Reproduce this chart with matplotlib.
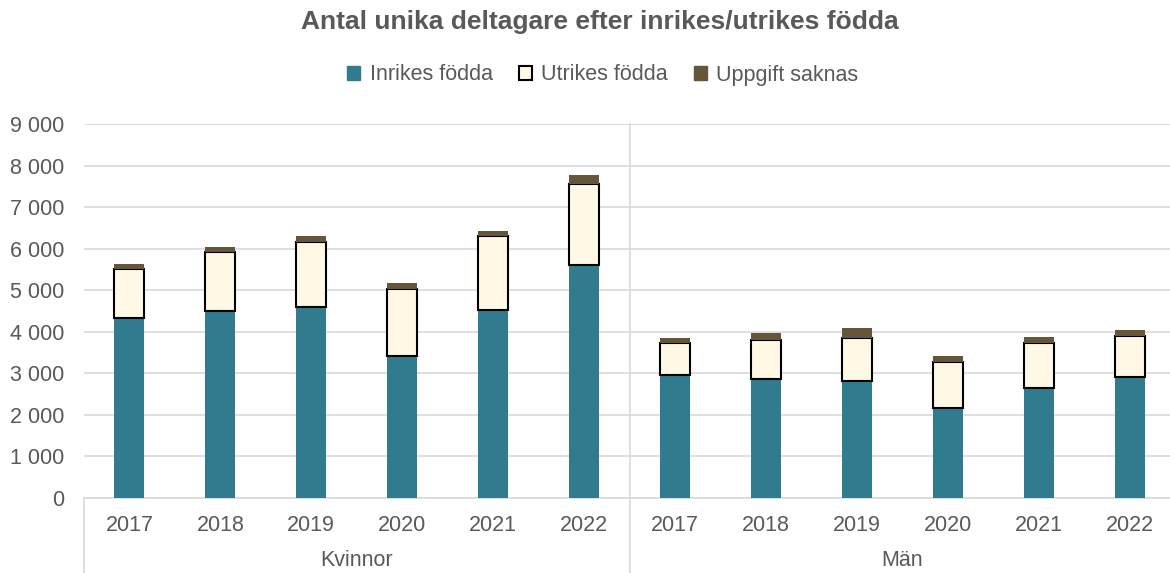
import matplotlib
matplotlib.use("Agg")
import matplotlib.pyplot as plt
from matplotlib.patches import Patch
import matplotlib.transforms as mtransforms

plt.rcParams['font.family'] = ['Liberation Sans', 'DejaVu Sans']

years = ["2017", "2018", "2019", "2020", "2021", "2022"]
groups = ["Kvinnor", "Män"]
inrikes_kvinnor = [4330, 4500, 4590, 3420, 4520, 5600]
utrikes_kvinnor = [1170, 1410, 1560, 1600, 1780, 1955]
saknas_kvinnor = [120, 140, 150, 145, 130, 210]
inrikes_man = [2950, 2870, 2810, 2165, 2650, 2905]
utrikes_man = [770, 930, 1040, 1105, 1090, 995]
saknas_man = [120, 170, 250, 140, 130, 145]
yticks = [0, 1000, 2000, 3000, 4000, 5000, 6000, 7000, 8000, 9000]
ytick_labels = ["0", "1 000", "2 000", "3 000", "4 000", "5 000", "6 000", "7 000", "8 000", "9 000"]

c_in = '#307B8E'
c_ut = '#FFF8E5'
c_sak = '#655639'
txt = '#595959'
grid = '#D9D9D9'

inrikes = inrikes_kvinnor + inrikes_man
utrikes = utrikes_kvinnor + utrikes_man
saknas = saknas_kvinnor + saknas_man
labels = years + years
x = list(range(len(labels)))

fig = plt.figure(figsize=(11.7, 5.73), dpi=100)
ax = fig.add_axes([84/1170, 1-498/573, 1091/1170, (498-124)/573])

w = 0.33
ax.bar(x, inrikes, width=w, color=c_in, zorder=3)
ax.bar(x, utrikes, width=w, bottom=inrikes, color=c_ut, edgecolor='black', linewidth=1.5, zorder=3)
bot2 = [a + b for a, b in zip(inrikes, utrikes)]
ax.bar(x, saknas, width=w, bottom=bot2, color=c_sak, zorder=3)

ax.set_xlim(-0.5, len(labels) - 0.5)
ax.set_ylim(0, 9000)
ax.set_yticks(yticks)
ax.set_yticklabels(ytick_labels, fontsize=15.5, color=txt)
ax.set_xticks(x)
ax.set_xticklabels(labels, fontsize=15.5, color=txt)
ax.tick_params(axis='both', length=0)
ax.tick_params(axis='y', pad=14)
ax.tick_params(axis='x', pad=12)
ax.grid(axis='y', color=grid, linewidth=1.2, zorder=0)
for s in ['top', 'right', 'left']:
    ax.spines[s].set_visible(False)
ax.spines['bottom'].set_color(grid)
ax.spines['bottom'].set_linewidth(1.2)

trans = mtransforms.blended_transform_factory(ax.transData, ax.transAxes)
ybot = -(573 - 498) / (498 - 124)
for xv in [-0.5, 11.5]:
    ax.plot([xv, xv], [0, ybot], transform=trans, color=grid, lw=1.2, clip_on=False)
ax.plot([5.5, 5.5], [1, ybot], transform=trans, color=grid, lw=1.2, clip_on=False, zorder=1)

ygrp = -(561 - 498) / (498 - 124)
ax.text(2.5, ygrp, groups[0], transform=trans, ha='center', va='center', fontsize=15.5, color=txt)
ax.text(8.5, ygrp, groups[1], transform=trans, ha='center', va='center', fontsize=15.5, color=txt)

fig.text(0.513, 1 - 22/573, "Antal unika deltagare efter inrikes/utrikes födda",
         ha='center', va='center', fontsize=19, fontweight='bold', color=txt)

handles = [Patch(facecolor=c_in, edgecolor=c_in),
           Patch(facecolor=c_ut, edgecolor='black', linewidth=1.5),
           Patch(facecolor=c_sak, edgecolor=c_sak)]
fig.legend(handles, ["Inrikes födda", "Utrikes födda", "Uppgift saknas"],
           loc='center', bbox_to_anchor=(603/1170, 1 - 75/573), ncol=3, frameon=False,
           fontsize=15.5, labelcolor=txt, handlelength=0.6, handleheight=0.6,
           handletextpad=0.45, columnspacing=1.2)

fig.savefig("out.png", dpi=100)
